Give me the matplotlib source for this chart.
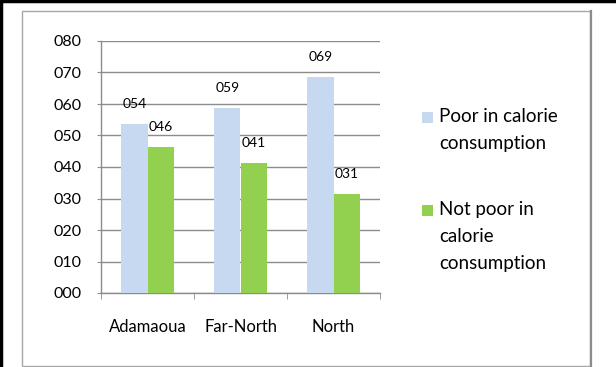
import numpy as np
import matplotlib.pyplot as plt
from matplotlib.patches import Rectangle
from matplotlib.lines import Line2D

plt.rcParams['font.family'] = ['Lato', 'DejaVu Sans']

regions = ['Adamaoua', 'Far-North', 'North']
poor = [53.7, 58.8, 68.6]
not_poor = [46.3, 41.2, 31.4]
series_names = ['Poor in calorie\nconsumption', 'Not poor in\ncalorie\nconsumption']
colors = ['#C6D9F1', '#92D050']

W, H = 616, 367
fig = plt.figure(figsize=(W / 100, H / 100), dpi=100)

# frame of the picture (black) and chart area (grey)
fig.add_artist(Line2D([0, 1], [1 - 1 / H, 1 - 1 / H], color='black', lw=2.5, transform=fig.transFigure))
fig.add_artist(Line2D([1 / W, 1 / W], [0, 1], color='black', lw=2.5, transform=fig.transFigure))
fig.add_artist(Rectangle((22 / W, 1 / H), (590 - 22) / W, (366 - 11) / H, transform=fig.transFigure,
                         fill=False, edgecolor='#a6a6a6', lw=1.0))
fig.add_artist(Line2D([591 / W, 591 / W], [1 / H, 1 - 11 / H], color='#8c8c8c', lw=1.6, transform=fig.transFigure))

ax = fig.add_axes([101 / W, 1 - 293 / H, (380 - 101) / W, (293 - 41) / H])

x = np.arange(len(regions))
bw = 0.28
b1 = ax.bar(x - bw / 2, poor, bw, color=colors[0], zorder=3)
b2 = ax.bar(x + bw / 2, not_poor, bw, color=colors[1], zorder=3)

for bars, vals in [(b1, poor), (b2, not_poor)]:
    for b, v in zip(bars, vals):
        ax.annotate('%03d' % round(v), (b.get_x() + b.get_width() / 2, v),
                    xytext=(0, 14.5), textcoords='offset points',
                    ha='center', va='center', fontsize=10)

ax.set_xlim(-0.5, 2.5)
ax.set_ylim(0, 80)
ax.set_yticks(np.arange(0, 81, 10))
ax.set_yticklabels(['%03d' % t for t in range(0, 81, 10)], fontsize=11.5)
ax.yaxis.grid(True, color='#8c8c8c', lw=1.0, zorder=0)
ax.set_xticks(x)
ax.set_xticklabels(regions, fontsize=12)
ax.set_xticks([-0.5, 0.5, 1.5, 2.5], minor=True)
ax.tick_params(axis='x', which='major', length=0, pad=19)
ax.tick_params(axis='x', which='minor', length=4, color='#8c8c8c', direction='out')
ax.tick_params(axis='y', length=3, color='#8c8c8c', pad=11)
for s in ['top', 'right']:
    ax.spines[s].set_visible(False)
for s in ['left', 'bottom']:
    ax.spines[s].set_color('#8c8c8c')
    ax.spines[s].set_linewidth(1.0)

# legend drawn by hand, Excel style
legend_rows = [117, 210]
for name, col, y0 in zip(series_names, colors, legend_rows):
    fig.add_artist(Rectangle((422 / W, 1 - (y0 + 6) / H), 11 / W, 11 / H,
                             transform=fig.transFigure, facecolor=col, edgecolor='none'))
    for i, line in enumerate(name.split('\n')):
        fig.text(439 / W, 1 - (y0 + i * 26.5) / H, line, fontsize=13.5, va='center', ha='left')

fig.savefig('out.png', dpi=100)
